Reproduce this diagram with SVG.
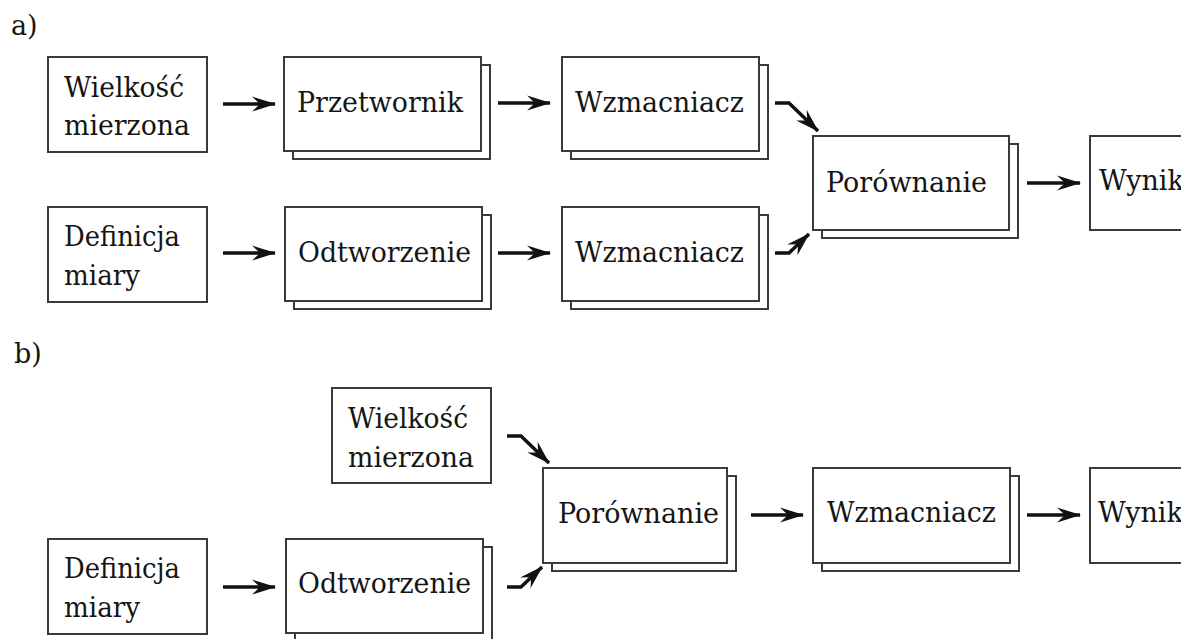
<svg xmlns="http://www.w3.org/2000/svg" width="1181" height="639" viewBox="0 0 1181 639">
<style>
  .box{fill:#fff;stroke:#3a3a3a;stroke-width:2}
  .t{font-family:"DejaVu Serif","Liberation Serif",serif;font-size:27px;fill:#151515}
  .a{fill:none;stroke:#111;stroke-width:3.5;marker-end:url(#ah)}
</style>
<defs>
  <marker id="ah" markerUnits="userSpaceOnUse" markerWidth="26" markerHeight="16" refX="23" refY="7.5" orient="auto" overflow="visible">
    <path d="M0,0 L24,7.5 L0,15 L8,7.5 Z" fill="#111"/>
  </marker>
</defs>
<rect width="1181" height="639" fill="#fff"/>
<text class="t" x="11" y="35">a)</text>
<text class="t" x="14" y="363">b)</text>

<g id="a-wielkosc"><rect class="box" x="48" y="57" width="159" height="95"/><text class="t" x="64" y="97" textLength="120" lengthAdjust="spacingAndGlyphs">Wielkość</text><text class="t" x="64" y="135" textLength="126" lengthAdjust="spacingAndGlyphs">mierzona</text></g>
<g id="a-przetwornik"><rect class="box" x="293" y="65" width="197" height="94"/><rect class="box" x="284" y="57" width="197" height="94"/><text class="t" x="297" y="112" textLength="166" lengthAdjust="spacingAndGlyphs">Przetwornik</text></g>
<g id="a-wzmacniacz1"><rect class="box" x="571" y="65" width="197" height="94"/><rect class="box" x="562" y="57" width="197" height="94"/><text class="t" x="575" y="112" textLength="169" lengthAdjust="spacingAndGlyphs">Wzmacniacz</text></g>
<g id="a-porownanie"><rect class="box" x="822" y="144" width="196" height="94"/><rect class="box" x="813" y="136" width="196" height="94"/><text class="t" x="826" y="192" textLength="161" lengthAdjust="spacingAndGlyphs">Porównanie</text></g>
<g id="a-wynik"><rect class="box" x="1090" y="136" width="200" height="94"/><text class="t" x="1099" y="190">Wynik</text></g>
<g id="a-definicja"><rect class="box" x="48" y="207" width="159" height="95"/><text class="t" x="64" y="246" textLength="116" lengthAdjust="spacingAndGlyphs">Definicja</text><text class="t" x="64" y="285" textLength="76" lengthAdjust="spacingAndGlyphs">miary</text></g>
<g id="a-odtworzenie"><rect class="box" x="294" y="215" width="197" height="94"/><rect class="box" x="285" y="207" width="197" height="94"/><text class="t" x="298" y="262" textLength="173" lengthAdjust="spacingAndGlyphs">Odtworzenie</text></g>
<g id="a-wzmacniacz2"><rect class="box" x="571" y="215" width="197" height="94"/><rect class="box" x="562" y="207" width="197" height="94"/><text class="t" x="575" y="262" textLength="169" lengthAdjust="spacingAndGlyphs">Wzmacniacz</text></g>

<g id="b-wielkosc"><rect class="box" x="332" y="388" width="159" height="95"/><text class="t" x="348" y="428" textLength="120" lengthAdjust="spacingAndGlyphs">Wielkość</text><text class="t" x="348" y="467" textLength="126" lengthAdjust="spacingAndGlyphs">mierzona</text></g>
<g id="b-definicja"><rect class="box" x="48" y="539" width="159" height="95"/><text class="t" x="64" y="578" textLength="116" lengthAdjust="spacingAndGlyphs">Definicja</text><text class="t" x="64" y="617" textLength="76" lengthAdjust="spacingAndGlyphs">miary</text></g>
<g id="b-odtworzenie"><rect class="box" x="295" y="547" width="197" height="94"/><rect class="box" x="286" y="539" width="197" height="94"/><text class="t" x="298" y="593" textLength="173" lengthAdjust="spacingAndGlyphs">Odtworzenie</text></g>
<g id="b-porownanie"><rect class="box" x="552" y="476" width="184" height="95"/><rect class="box" x="543" y="468" width="184" height="95"/><text class="t" x="558" y="523" textLength="161" lengthAdjust="spacingAndGlyphs">Porównanie</text></g>
<g id="b-wzmacniacz"><rect class="box" x="822" y="476" width="197" height="95"/><rect class="box" x="813" y="468" width="197" height="95"/><text class="t" x="827" y="522" textLength="169" lengthAdjust="spacingAndGlyphs">Wzmacniacz</text></g>
<g id="b-wynik"><rect class="box" x="1090" y="468" width="200" height="95"/><text class="t" x="1098" y="522">Wynik</text></g>

<g id="connectors">
  <path class="a" d="M223,104 H275"/>
  <path class="a" d="M498,103 H550"/>
  <path class="a" d="M775,103 H789 L818,131"/>
  <path class="a" d="M775,253 H789 L809,234"/>
  <path class="a" d="M1027,183 H1080"/>
  <path class="a" d="M223,253 H275"/>
  <path class="a" d="M498,253 H550"/>
  <path class="a" d="M223,587 H275"/>
  <path class="a" d="M507,436 H521 L549,463"/>
  <path class="a" d="M507,587 H521 L542,567"/>
  <path class="a" d="M751,515 H803"/>
  <path class="a" d="M1027,515 H1080"/>
</g>
</svg>
